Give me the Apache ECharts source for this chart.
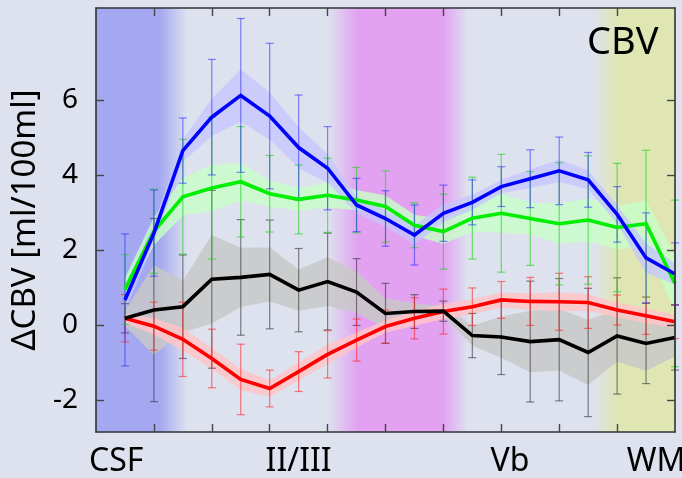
<!DOCTYPE html>
<html>
<head>
<meta charset="utf-8">
<script src="https://cdn.jsdelivr.net/npm/echarts@6/dist/echarts.min.js"></script>
<style>
  html, body { margin: 0; padding: 0; background: #dde2ee; }
  #chart { width: 682px; height: 478px; }
</style>
</head>
<body>
<div id="chart"></div>
<script>
// Cortical depth positions (CSF at the top surface, WM at the bottom)
const depth = [1, 2, 3, 4, 5, 6, 7, 8, 9, 10, 11, 12, 13, 14, 15, 16, 17, 18, 19, 20];

// Named depth landmarks along the x axis
const depthLabels = ['CSF', 'II/III', 'Vb', 'WM'];
const depthLabelPos = [0.7, 7, 14.3, 19.35];
const depthTicks = [2, 4, 6, 8, 10, 12, 14, 16, 18];
const cbvTicks = [-2, 0, 2, 4, 6];

// Mean ΔCBV, standard deviation (error bars) and standard error (shaded band)
const blueMean = [0.67, 2.45, 4.65, 5.54, 6.12, 5.57, 4.73, 4.18, 3.2, 2.84, 2.4, 2.98, 3.27, 3.69, 3.9, 4.11, 3.87, 2.95, 1.79, 1.36];
const blueSD   = [1.76, 1.15, 0.87, 1.54, 2.05, 1.94, 1.4, 1.11, 0.71, 0.74, 0.8, 0.75, 0.6, 0.53, 0.77, 0.9, 0.73, 0.74, 1.2, 0.83];
const blueSEM  = [0.3, 0.25, 0.3, 0.5, 0.7, 0.63, 0.55, 0.38, 0.22, 0.22, 0.25, 0.24, 0.2, 0.18, 0.25, 0.3, 0.25, 0.25, 0.4, 0.28];

const greenMean = [0.95, 2.5, 3.42, 3.65, 3.82, 3.5, 3.35, 3.46, 3.33, 3.16, 2.66, 2.49, 2.85, 2.98, 2.84, 2.7, 2.8, 2.6, 2.7, 1.11];
const greenSD   = [0.93, 1.12, 1.53, 1.89, 1.47, 1.02, 0.92, 0.99, 0.87, 0.95, 0.6, 1.0, 1.09, 1.57, 1.25, 1.63, 1.71, 1.71, 1.96, 2.22];
const greenSEM  = [0.3, 0.37, 0.5, 0.62, 0.5, 0.35, 0.3, 0.33, 0.27, 0.29, 0.28, 0.33, 0.36, 0.52, 0.42, 0.54, 0.57, 0.57, 0.62, 0.73];

const blackMean = [0.18, 0.4, 0.49, 1.22, 1.27, 1.35, 0.93, 1.16, 0.88, 0.31, 0.36, 0.37, -0.28, -0.32, -0.44, -0.39, -0.73, -0.29, -0.49, -0.33];
const blackSD   = [0.39, 2.44, 1.38, 2.37, 1.54, 1.45, 1.11, 1.29, 0.89, 0.8, 0.45, 0.27, 0.59, 1.0, 1.61, 1.63, 1.71, 1.55, 1.07, 0.87];
const blackSEM  = [0.2, 1.2, 0.69, 1.18, 0.79, 0.72, 0.55, 0.65, 0.55, 0.4, 0.22, 0.14, 0.27, 0.55, 0.82, 0.82, 0.87, 0.69, 0.73, 0.51];

const redMean = [0.18, -0.03, -0.38, -0.89, -1.45, -1.69, -1.24, -0.78, -0.4, -0.04, 0.18, 0.36, 0.49, 0.67, 0.63, 0.62, 0.6, 0.4, 0.25, 0.09];
const redSD   = [0.63, 0.64, 0.99, 0.78, 0.94, 0.49, 0.53, 0.63, 0.56, 0.44, 0.55, 0.6, 0.5, 0.49, 0.64, 0.76, 0.69, 0.4, 0.5, 0.45];
const redSEM  = [0.12, 0.22, 0.3, 0.28, 0.28, 0.22, 0.24, 0.26, 0.2, 0.16, 0.2, 0.2, 0.2, 0.2, 0.22, 0.25, 0.22, 0.2, 0.2, 0.18];

// Highlighted depth regions: [start, solid from, solid to, end]
const regionBands = [
  { name: 'CSF', edges: [0, 0, 2.2, 3.15], color: [164, 168, 240] },
  { name: 'II/III-IV', edges: [8.0, 9.05, 12.0, 12.85], color: [226, 162, 241] },
  { name: 'WM', edges: [17.17, 18.0, 20, 20], color: [223, 230, 180] }
];

const FONT = 'Noto Sans';
const chart = echarts.init(document.getElementById('chart'), null, { renderer: 'canvas' });

function rgba(c, a) { return 'rgba(' + c[0] + ',' + c[1] + ',' + c[2] + ',' + a + ')'; }

function bandSeries() {
  return {
    type: 'custom',
    z: 1,
    silent: true,
    clip: true,
    data: regionBands.map(b => [b.edges[0], b.edges[3]]),
    renderItem(params, api) {
      const b = regionBands[params.dataIndex];
      const cs = params.coordSys;
      const p0 = api.coord([b.edges[0], 0]);
      const p1 = api.coord([b.edges[3], 0]);
      const span = b.edges[3] - b.edges[0];
      const s1 = (b.edges[1] - b.edges[0]) / span;
      const s2 = (b.edges[2] - b.edges[0]) / span;
      const stops = [
        { offset: 0, color: s1 > 0 ? rgba(b.color, 0) : rgba(b.color, 1) },
        { offset: s1, color: rgba(b.color, 1) },
        { offset: s2, color: rgba(b.color, 1) },
        { offset: 1, color: s2 < 1 ? rgba(b.color, 0) : rgba(b.color, 1) }
      ];
      return {
        type: 'rect',
        shape: { x: p0[0], y: cs.y, width: p1[0] - p0[0], height: cs.height },
        style: { fill: new echarts.graphic.LinearGradient(0, 0, 1, 0, stops) }
      };
    }
  };
}

function semSeries(mean, sem, fill) {
  const rows = depth.map((x, i) => [x, mean[i] - sem[i], mean[i] + sem[i]]);
  return {
    type: 'custom',
    z: 2,
    silent: true,
    data: rows,
    renderItem(params, api) {
      if (params.dataIndex !== 0) return null;
      const upper = rows.map(r => api.coord([r[0], r[2]]));
      const lower = rows.map(r => api.coord([r[0], r[1]])).reverse();
      return { type: 'polygon', shape: { points: upper.concat(lower) }, style: { fill: fill } };
    }
  };
}

function errorSeries(mean, sd, stroke) {
  return {
    type: 'custom',
    z: 3,
    silent: true,
    data: depth.map((x, i) => [x, mean[i] - sd[i], mean[i] + sd[i]]),
    renderItem(params, api) {
      const lo = api.coord([api.value(0), api.value(1)]);
      const hi = api.coord([api.value(0), api.value(2)]);
      const w = 4;
      const st = { stroke: stroke, lineWidth: 1.2 };
      return {
        type: 'group',
        children: [
          { type: 'line', shape: { x1: lo[0], y1: lo[1], x2: hi[0], y2: hi[1] }, style: st },
          { type: 'line', shape: { x1: lo[0] - w, y1: lo[1], x2: lo[0] + w, y2: lo[1] }, style: st },
          { type: 'line', shape: { x1: hi[0] - w, y1: hi[1], x2: hi[0] + w, y2: hi[1] }, style: st }
        ]
      };
    }
  };
}

function meanSeries(mean, color) {
  return {
    type: 'line',
    z: 5,
    silent: true,
    symbol: 'none',
    data: depth.map((x, i) => [x, mean[i]]),
    lineStyle: { color: color, width: 3.6, join: 'miter' }
  };
}

const frameLine = { show: true, lineStyle: { color: '#333', width: 1.6 } };
const innerTick = { show: true, inside: true, length: 8, lineStyle: { color: '#444', width: 1.4 } };

function xAxisDef(pos, withLabels) {
  return {
    type: 'value', position: pos, min: 0, max: 20, z: 10,
    axisLine: Object.assign({ onZero: false }, frameLine),
    axisTick: Object.assign({ customValues: depthTicks }, innerTick),
    splitLine: { show: false },
    axisLabel: withLabels ? {
      customValues: depthLabelPos,
      formatter: v => depthLabels[depthLabelPos.indexOf(v)] || '',
      fontFamily: FONT, fontSize: 32, color: '#000', margin: 14
    } : { show: false }
  };
}

function yAxisDef(pos, withLabels) {
  const ax = {
    type: 'value', position: pos, min: -2.85, max: 8.45, z: 10,
    axisLine: Object.assign({ onZero: false }, frameLine),
    axisTick: Object.assign({ customValues: cbvTicks }, innerTick),
    splitLine: { show: false },
    axisLabel: withLabels ? {
      customValues: cbvTicks,
      fontFamily: FONT, fontSize: 28, color: '#000', margin: 18
    } : { show: false }
  };
  if (withLabels) {
    ax.name = 'ΔCBV [ml/100ml]';
    ax.nameLocation = 'middle';
    ax.nameGap = 50;
    ax.nameTextStyle = { fontFamily: FONT, fontSize: 33, color: '#000' };
  }
  return ax;
}

chart.setOption({
  backgroundColor: '#dde2ee',
  animation: false,
  grid: { left: 96, right: 7, top: 8, bottom: 46, containLabel: false, outerBoundsMode: 'none' },
  xAxis: [xAxisDef('bottom', true), xAxisDef('top', false)],
  yAxis: [yAxisDef('left', true), yAxisDef('right', false)],
  graphic: [{
    type: 'text', left: 587, top: 24, z: 20,
    style: { text: 'CBV', font: '38px "' + FONT + '"', fill: '#000' }
  }],
  series: [
    bandSeries(),
    semSeries(blackMean, blackSEM, 'rgba(200,200,200,0.85)'),
    semSeries(redMean, redSEM, 'rgba(255,196,200,0.85)'),
    semSeries(greenMean, greenSEM, 'rgba(200,255,200,0.8)'),
    semSeries(blueMean, blueSEM, 'rgba(196,196,255,0.75)'),
    errorSeries(blackMean, blackSD, 'rgba(40,40,40,0.55)'),
    errorSeries(redMean, redSD, 'rgba(255,40,40,0.6)'),
    errorSeries(greenMean, greenSD, 'rgba(40,210,40,0.65)'),
    errorSeries(blueMean, blueSD, 'rgba(40,40,255,0.55)'),
    meanSeries(redMean, '#ff0000'),
    meanSeries(blackMean, '#000000'),
    meanSeries(greenMean, '#00ee00'),
    meanSeries(blueMean, '#0000ff')
  ]
});
</script>
</body>
</html>
